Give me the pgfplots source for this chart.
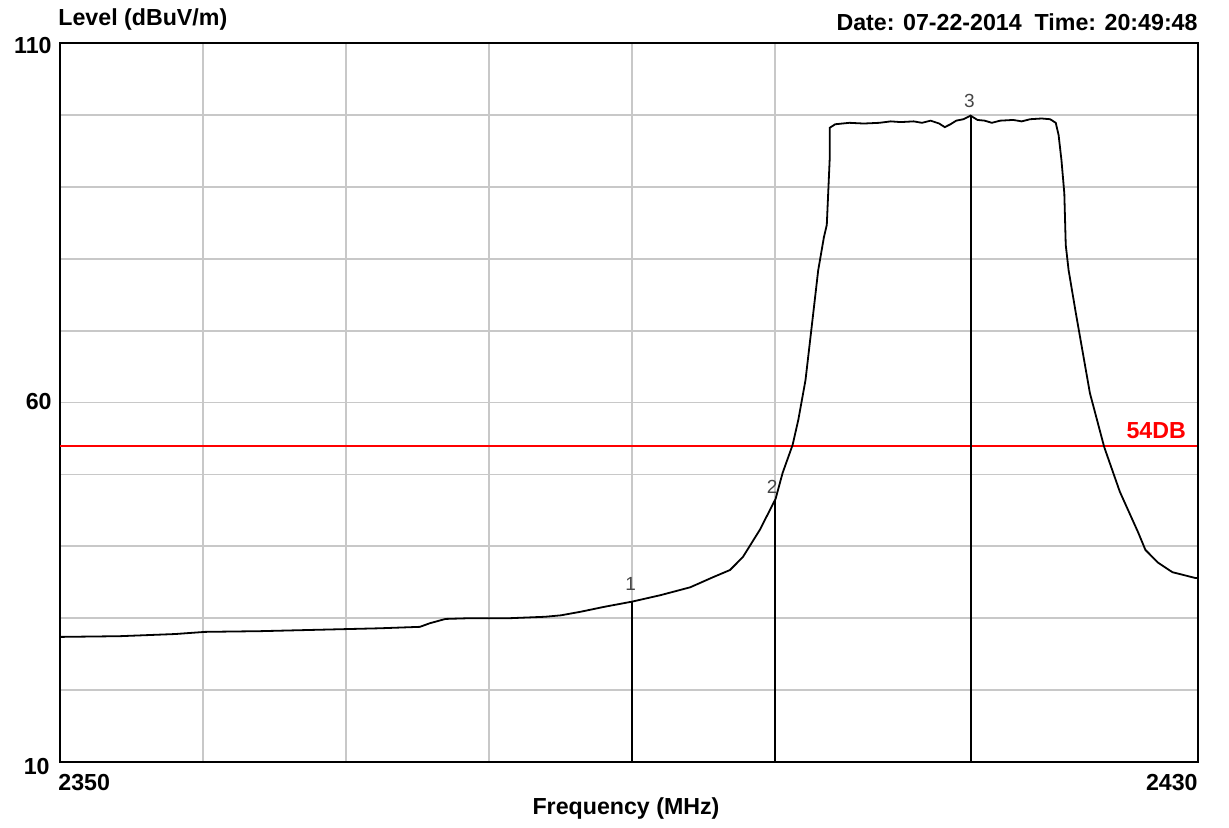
\documentclass[border=0pt]{standalone}
\usepackage{fontspec}
\setmainfont{Liberation Sans}
\usepackage{pgfplots}
\pgfplotsset{compat=1.18}
\definecolor{gridgray}{RGB}{200,200,200}
\definecolor{mkgray}{RGB}{70,70,70}
\definecolor{limitred}{RGB}{255,0,0}

\begin{document}
\begin{tikzpicture}
  \begin{axis}[
      scale only axis,
      width=569pt, height=359.5pt,
      xmin=2350, xmax=2429.58,
      ymin=10, ymax=110,
      xtick={2360,2370,...,2400},
      ytick={20,30,...,100},
      xticklabels={}, yticklabels={},
      major tick length=0pt,
      grid=major,
      major grid style={gridgray, line width=0.9pt},
      axis line style={black, line width=1.3pt},
      clip=false,
    ]
    % limit line
    \addplot[color=limitred, line width=0.9pt] coordinates {(2350,54) (2429.5,54)};
    % measured trace
    \addplot[black, line width=0.9pt] coordinates {
      (2350.00,27.4) (2354.18,27.5) (2358.06,27.8) (2360.15,28.1) (2364.03,28.2)
      (2368.20,28.4) (2372.38,28.6) (2375.17,28.8) (2375.86,29.3) (2376.96,29.9)
      (2378.65,30.0) (2381.43,30.0) (2383.92,30.2) (2385.02,30.4) (2386.41,30.9)
      (2388.10,31.6) (2389.99,32.3) (2391.98,33.2) (2394.07,34.3) (2395.66,35.7)
      (2396.85,36.7) (2397.75,38.5) (2398.94,42.3) (2400.04,46.6) (2400.53,50.2)
      (2401.23,54.1) (2401.63,57.6) (2402.13,63.1) (2402.62,71.5) (2403.02,78.4)
      (2403.42,83.0) (2403.62,84.7) (2403.82,93.7) (2403.82,98.2) (2404.21,98.7)
      (2405.21,98.9) (2406.20,98.8) (2407.30,98.9) (2408.09,99.1) (2408.79,99.0)
      (2409.69,99.1) (2410.28,98.9) (2410.88,99.2) (2411.48,98.8) (2411.87,98.3)
      (2412.27,98.7) (2412.67,99.2) (2413.17,99.4) (2413.67,99.9) (2414.16,99.3)
      (2414.66,99.2) (2415.16,98.9) (2415.75,99.2) (2416.65,99.3) (2417.25,99.1)
      (2417.84,99.4) (2418.64,99.5) (2419.24,99.4) (2419.63,98.9) (2419.83,97.2)
      (2420.03,93.7) (2420.23,89.1) (2420.33,81.9) (2420.53,78.4) (2421.03,72.5)
      (2422.02,61.3) (2423.02,53.8) (2424.11,47.6) (2425.40,41.9) (2425.90,39.5)
      (2426.80,37.7) (2427.79,36.4) (2429.38,35.6) (2429.58,35.6)
    };
    % markers
    \addplot[black, line width=1pt] coordinates {(2390.0,10) (2390.0,32.3)};
    \addplot[black, line width=1pt] coordinates {(2400.0,10) (2400.0,46.4)};
    \addplot[black, line width=1pt] coordinates {(2413.67,10) (2413.67,99.9)};
    \node[mkgray, font=\fontsize{9.5}{10}\selectfont] at (axis cs:2389.9,34.8) {1};
    \node[mkgray, font=\fontsize{9.5}{10}\selectfont] at (axis cs:2399.8,48.3) {2};
    \node[mkgray, font=\fontsize{9.5}{10}\selectfont] at (axis cs:2413.6,101.9) {3};
    \node[limitred, font=\bfseries\fontsize{11.6}{13}\selectfont, anchor=south east, inner sep=1pt]
      at (axis cs:2428.9,54.6) {54DB};
  \end{axis}
  \begin{scope}[font=\bfseries\fontsize{11.6}{13}\selectfont]
    \node[anchor=west, inner sep=0pt] at (-1pt,371pt) {Level (dBuV/m)};
    \node[anchor=east, inner sep=0pt] at (569pt,370pt) {Date: 07-22-2014\ \ Time: 20:49:48};
    \node[anchor=east, inner sep=0pt] at (-4pt,358pt) {110};
    \node[anchor=east, inner sep=0pt] at (-4pt,180pt) {60};
    \node[anchor=east, inner sep=0pt] at (-5pt,-2pt) {10};
    \node[anchor=west, inner sep=0pt] at (-1pt,-10.5pt) {2350};
    \node[anchor=east, inner sep=0pt] at (569pt,-10.5pt) {2430};
    \node[inner sep=0pt] at (283pt,-23pt) {Frequency (MHz)};
  \end{scope}
  \path[use as bounding box] (-30pt,-32.5pt) rectangle (584.5pt,381pt);
\end{tikzpicture}
\end{document}
